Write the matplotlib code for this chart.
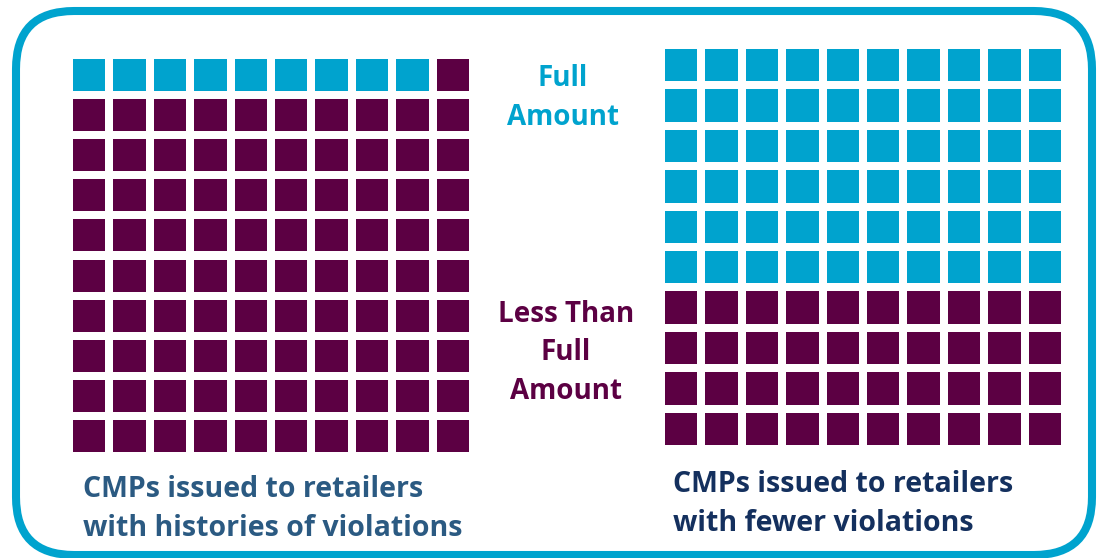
import matplotlib
matplotlib.use("Agg")
import matplotlib.pyplot as plt
from matplotlib.patches import Rectangle, FancyBboxPatch

# waffle counts (out of 100 CMPs each)
groups = ["CMPs issued to retailers\nwith histories of violations",
          "CMPs issued to retailers\nwith fewer violations"]
full_amount = [9, 60]
less_than_full = [91, 40]
legend_labels = ["Full\nAmount", "Less Than\nFull\nAmount"]

BLUE = "#00A3CE"
PURPLE = "#5C0043"
TEXT_COLORS = ["#2B5A82", "#14305E"]
FONT = ["Open Sans", "DejaVu Sans"]

W, H = 1103, 558
fig = plt.figure(figsize=(W / 100, H / 100), dpi=100)

# background axes in pixel units for the frame and labels
bg = fig.add_axes([0, 0, 1, 1])
bg.set_xlim(0, W)
bg.set_ylim(H, 0)
bg.axis("off")

frame = FancyBboxPatch((16, 11), 1076, 544,
                       boxstyle="round,pad=0,rounding_size=58",
                       fill=False, edgecolor=BLUE, linewidth=5.8)
bg.add_patch(frame)

bg.text(563, 98, legend_labels[0], color=BLUE, fontsize=20, family=FONT,
        weight="bold", ha="center", va="center", linespacing=1.45)
bg.text(566, 353, legend_labels[1], color=PURPLE, fontsize=20, family=FONT,
        weight="bold", ha="center", va="center", linespacing=1.45)

# grid placement in pixels: left, top, width, height
grid_boxes = [(73, 59, 396, 393), (665, 49, 396, 396)]
text_pos = [(83, 509), (673, 504)]

ncols = 10
cell = 0.8
for i in range(2):
    x0, y0, w, h = grid_boxes[i]
    ax = fig.add_axes([x0 / W, 1 - (y0 + h) / H, w / W, h / H])
    ax.set_xlim(0, 9 + cell)
    ax.set_ylim(9 + cell, 0)
    ax.axis("off")
    n_full = full_amount[i]
    total = full_amount[i] + less_than_full[i]
    for k in range(total):
        r, c = divmod(k, ncols)
        color = BLUE if k < n_full else PURPLE
        ax.add_patch(Rectangle((c, r), cell, cell, facecolor=color,
                               edgecolor="none"))
    tx, ty = text_pos[i]
    bg.text(tx, ty, groups[i], color=TEXT_COLORS[i], fontsize=20.5,
            family=FONT, weight="bold", ha="left", va="center",
            linespacing=1.42)

fig.savefig("out.png", dpi=100)
